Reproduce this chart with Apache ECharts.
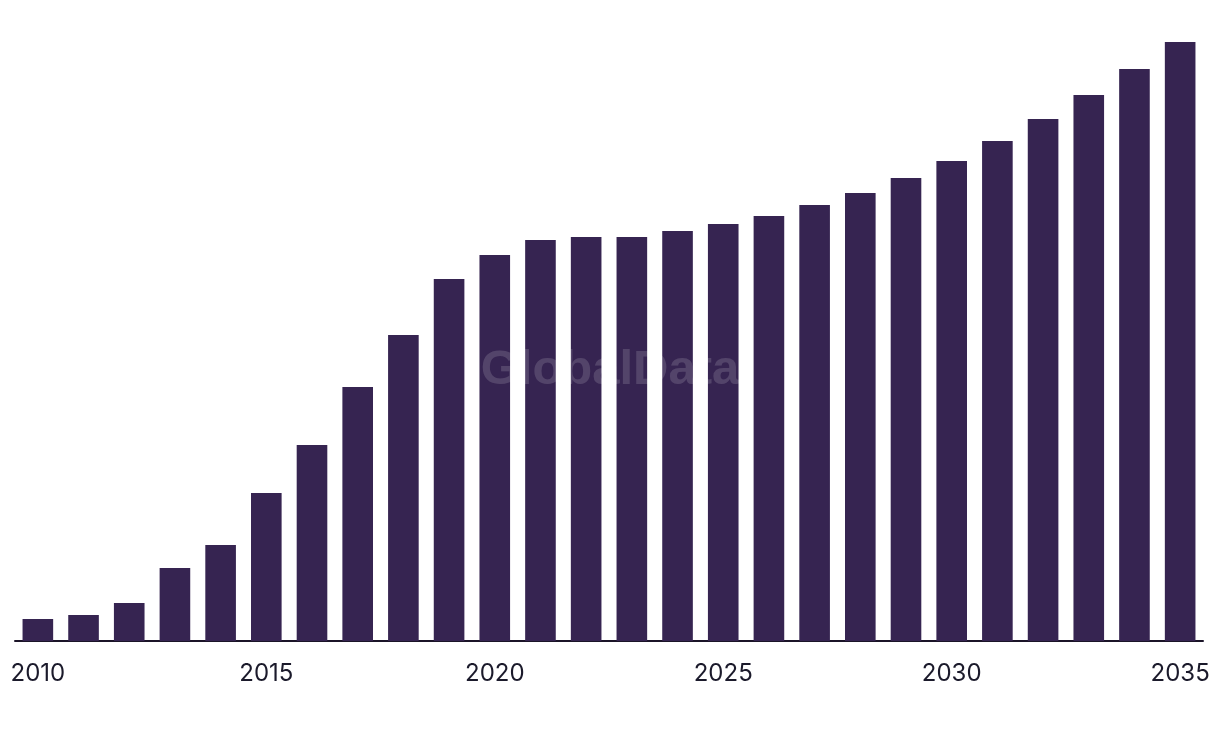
<!DOCTYPE html>
<html><head><meta charset="utf-8">
<script src="https://cdn.jsdelivr.net/npm/echarts@6/dist/echarts.min.js"></script>
<style>html,body{margin:0;padding:0;background:#fff}#c{width:1220px;height:738px}</style>
</head><body><div id="c"></div>
<script>
const years = ['2010','2011','2012','2013','2014','2015','2016','2017','2018','2019','2020','2021','2022','2023','2024','2025','2026','2027','2028','2029','2030','2031','2032','2033','2034','2035'];
const values = [22,26,38,73,96,148,196,254,306,362,386,401,404,404,410,417,425,436,448,463,480,500,522,546,572,599];
const chart = echarts.init(document.getElementById('c'));
chart.setOption({
  animation:false,
  grid:{left:15,right:17,top:42,bottom:97,containLabel:false},
  graphic:[{type:'text',left:'center',top:346,z:100,style:{text:'GlobalData',fontFamily:'Liberation Sans, Arial, sans-serif',fontWeight:'bold',fontSize:49,fill:'rgba(255,255,255,0.15)'}}],
  xAxis:{type:'category',data:years,
    axisLine:{lineStyle:{color:'#1b1428',width:2}},
    axisTick:{show:false},
    axisLabel:{interval:4,color:'#1b1a2b',fontFamily:'Inter, sans-serif',fontSize:24,margin:21}},
  yAxis:{type:'value',min:0,max:599,show:false,splitLine:{show:false}},
  series:[{type:'bar',data:values,barWidth:'67%',itemStyle:{color:'#362451'}}]
});
</script></body></html>
